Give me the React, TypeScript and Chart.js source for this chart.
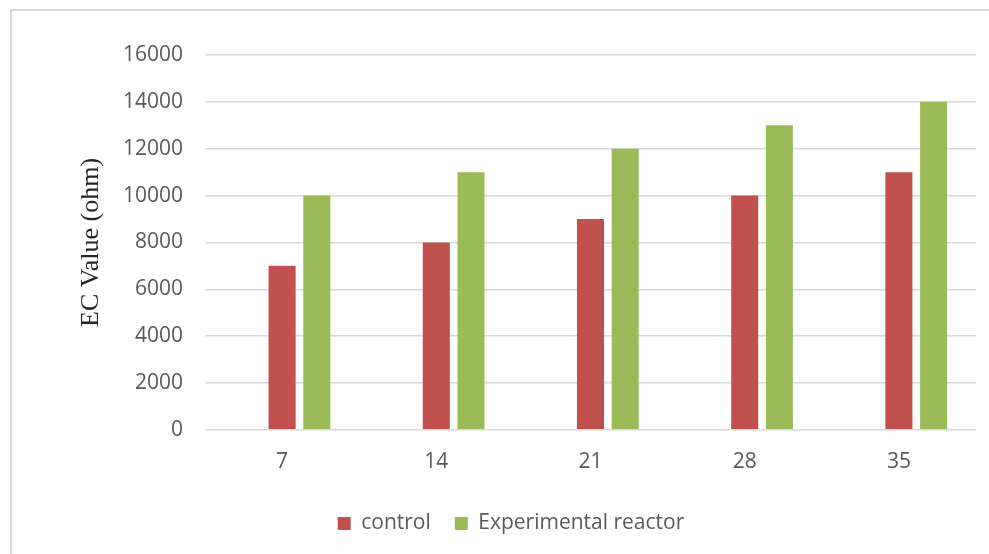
import React, { useEffect, useRef } from "react";
import { Chart, registerables } from "chart.js";

Chart.register(...registerables);

// Days of operation
const days = ["7", "14", "21", "28", "35"];
// EC values (ohm)
const controlValues = [7000, 8000, 9000, 10000, 11000];
const experimentalValues = [10000, 11000, 12000, 13000, 14000];
// Empty leading slot so the tick sits under the first visible bar
const spacerValues = [null, null, null, null, null];

const yMin = 0;
const yMax = 16000;
const yStep = 2000;

const TICK_FONT = { family: "'Open Sans', 'Liberation Sans', sans-serif", size: 21 };

export default function App() {
  const canvasRef = useRef<HTMLCanvasElement | null>(null);

  useEffect(() => {
    if (!canvasRef.current) return;
    const chart = new Chart(canvasRef.current, {
      type: "bar",
      data: {
        labels: days,
        datasets: [
          { label: "", data: spacerValues, backgroundColor: "rgba(0,0,0,0)" },
          { label: "control", data: controlValues, backgroundColor: "#C0504D" },
          { label: "Experimental reactor", data: experimentalValues, backgroundColor: "#9BBB59" },
        ],
      },
      options: {
        animation: false,
        responsive: false,
        maintainAspectRatio: false,
        datasets: {
          bar: { categoryPercentage: 0.675, barPercentage: 0.78 },
        },
        layout: { padding: { left: 46, right: 13, top: 55, bottom: 10 } },
        plugins: {
          tooltip: { enabled: false },
          legend: {
            position: "bottom",
            labels: {
              filter: (item) => item.text !== "",
              boxWidth: 13,
              boxHeight: 13,
              padding: 24,
              color: "#595959",
              font: TICK_FONT,
            },
          },
        },
        scales: {
          x: {
            grid: { display: false, drawTicks: false },
            border: { display: false },
            ticks: { color: "#595959", font: TICK_FONT, padding: 20 },
            afterFit: (scale) => {
              scale.height -= 6;
            },
          },
          y: {
            min: yMin,
            max: yMax,
            ticks: {
              stepSize: yStep,
              color: "#595959",
              font: TICK_FONT,
              padding: 22,
              callback: (v) => String(v),
            },
            grid: { color: "#d9d9d9", lineWidth: 1.5, drawTicks: false },
            border: { display: false },
            title: {
              display: true,
              text: "EC Value (ohm)",
              color: "#262626",
              font: { family: "'Liberation Serif', 'Times New Roman', serif", size: 26 },
              padding: { top: 30, bottom: 4 },
            },
            afterFit: (scale) => {
              scale.width = 159;
            },
          },
        },
      },
    });
    return () => chart.destroy();
  }, []);

  return (
    <div style={{ position: "fixed", left: 0, top: 0, width: 989, height: 554, overflow: "hidden", background: "#fff" }}>
      <div
        style={{
          position: "absolute",
          left: 10,
          top: 9,
          width: 1000,
          height: 600,
          border: "2px solid #d9d9d9",
          boxSizing: "border-box",
        }}
      />
      <canvas ref={canvasRef} width={989} height={554} style={{ position: "absolute", left: 0, top: 0 }} />
    </div>
  );
}
